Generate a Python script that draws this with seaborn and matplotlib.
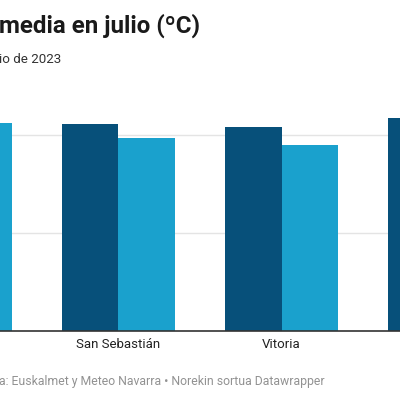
import matplotlib
matplotlib.use("Agg")
import matplotlib.pyplot as plt
import seaborn as sns
import pandas as pd

# ---- data ----
ciudades = ["Bilbao", "San Sebastián", "Vitoria", "Pamplona"]
series = ["Julio 2023", "Media histórica"]
julio_2023 = [21.5, 21.1, 20.8, 21.7]
media_historica = [21.2, 19.7, 19.0, 20.0]
y_ticks = [0, 10, 20]

titulo_oculto = "Temperatura "
titulo = "media en julio (ºC)"
subtitulo_oculto = "Media histórica y jul"
subtitulo = "io de 2023"
fuente_oculta = "Fuente"
fuente = "a: Euskalmet y Meteo Navarra • Norekin sortua Datawrapper"

dark = "#07507a"
light = "#1aa1cd"

rows = []
for c, a, b in zip(ciudades, julio_2023, media_historica):
    rows.append({"ciudad": c, "serie": series[0], "temp": a})
    rows.append({"ciudad": c, "serie": series[1], "temp": b})
df = pd.DataFrame(rows)

sns.set_theme(style="white")
plt.rcParams["font.family"] = ["Roboto", "DejaVu Sans"]

W = H = 400
fig = plt.figure(figsize=(4, 4), dpi=100)
fig.patch.set_facecolor("white")

base_px = 331
top_px = 110
ax = fig.add_axes([0, (H - base_px) / H, 1, (base_px - top_px) / H])

sns.barplot(data=df, x="ciudad", y="temp", hue="serie", order=ciudades,
            hue_order=series, palette=[dark, light], width=0.694,
            saturation=1, linewidth=0, ax=ax, legend=False)

ax.set_xlim(0.2756, 2.725)
ax.set_ylim(0, (base_px - top_px) / 9.8)
ax.set_yticks(y_ticks)
ax.set_yticklabels([])
ax.yaxis.grid(True, color="#e4e4e4", lw=1)
ax.xaxis.grid(False)
ax.set_axisbelow(True)
for s in ["top", "left", "right"]:
    ax.spines[s].set_visible(False)
ax.spines["bottom"].set_color("#333333")
ax.spines["bottom"].set_linewidth(1.2)
ax.tick_params(axis="x", length=0, pad=5, labelsize=9.5, colors="#222222")
ax.tick_params(axis="y", length=0)
ax.set_xlabel("")
ax.set_ylabel("")

def fx(px):
    return px / W

def fy(py):
    return 1 - py / H

fig.text(fx(-1), fy(33), titulo, ha="left", va="baseline", fontsize=17.4,
         fontweight="bold", color="#1a1a1a")
fig.text(fx(-1), fy(33), titulo_oculto, ha="right", va="baseline", fontsize=17.4,
         fontweight="bold", color="#1a1a1a")
fig.text(fx(-1), fy(62.7), subtitulo, ha="left", va="baseline", fontsize=9.6,
         color="#333333")
fig.text(fx(-1), fy(62.7), subtitulo_oculto, ha="right", va="baseline", fontsize=9.6,
         color="#333333")
fig.text(fx(-1), fy(385), fuente, ha="left", va="baseline", fontsize=8.8,
         color="#929292")
fig.text(fx(-1), fy(385), fuente_oculta, ha="right", va="baseline", fontsize=8.8,
         color="#929292")

fig.savefig("out.png", dpi=100)
